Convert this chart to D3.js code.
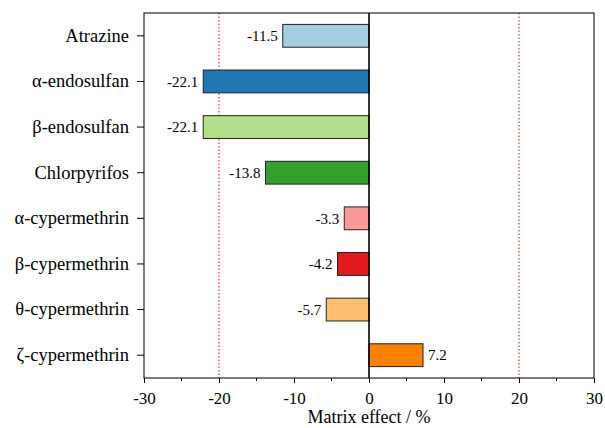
<!DOCTYPE html>
<html><head><meta charset="utf-8">
<script src="https://cdn.jsdelivr.net/npm/d3@7"></script>
<style>body{margin:0;background:#fff}svg{display:block}</style>
</head><body>
<svg id="c" width="605" height="428"></svg>
<script>
const categories=["Atrazine","α-endosulfan","β-endosulfan","Chlorpyrifos","α-cypermethrin","β-cypermethrin","θ-cypermethrin","ζ-cypermethrin"];
const values=[-11.5,-22.1,-22.1,-13.8,-3.3,-4.2,-5.7,7.2];
const colors=["#a6cee3","#1f78b4","#b2df8a","#33a02c","#fb9a99","#e31a1c","#fdbf6f","#ff7f00"];
const xTicks=[-30,-20,-10,0,10,20,30];
const refLines=[-20,20];

const FONT="'Liberation Serif', 'Times New Roman', Times, serif";
const svg=d3.select("#c");
const L=144,R=594,T=13,B=378;
const x=d3.scaleLinear().domain([-30,30]).range([L,R]);
const y=d3.scaleBand().domain(categories).range([T,B]).paddingInner(0.5).paddingOuter(0.25);

svg.selectAll(".ref").data(refLines).enter().append("line")
 .attr("x1",d=>x(d)).attr("x2",d=>x(d)).attr("y1",T).attr("y2",B)
 .attr("stroke","#ff0000").attr("stroke-width",1).attr("stroke-dasharray","1.5,2");

svg.selectAll(".bar").data(values).enter().append("rect")
 .attr("x",d=>x(Math.min(0,d))).attr("width",d=>Math.abs(x(d)-x(0)))
 .attr("y",(d,i)=>y(categories[i])).attr("height",y.bandwidth())
 .attr("fill",(d,i)=>colors[i]).attr("stroke","#222").attr("stroke-width",1);

svg.selectAll(".val").data(values).enter().append("text")
 .attr("x",d=>d<0?x(d)-5:x(d)+5)
 .attr("y",(d,i)=>y(categories[i])+y.bandwidth()/2)
 .attr("dy","0.35em").attr("text-anchor",d=>d<0?"end":"start")
 .style("font-size","15px").style("font-family",FONT).attr("fill","#000")
 .text(d=>d<0?"-"+Math.abs(d).toFixed(1):d.toFixed(1));

svg.append("line").attr("x1",x(0)).attr("x2",x(0)).attr("y1",T).attr("y2",B)
 .attr("stroke","#000").attr("stroke-width",1.6);

svg.append("rect").attr("x",L).attr("y",T).attr("width",R-L).attr("height",B-T)
 .attr("fill","none").attr("stroke","#111").attr("stroke-width",1.1);

const xa=svg.append("g").attr("transform",`translate(0,${B})`)
 .call(d3.axisBottom(x).tickValues(xTicks).tickSize(5).tickPadding(9).tickFormat(d=>d<0?"-"+Math.abs(d):d));
xa.select(".domain").remove();
xa.selectAll("text").style("font-size","17px").style("font-family",FONT).attr("fill","#000");
const minor=d3.range(-25,30,10);
svg.append("g").selectAll("line").data(minor).enter().append("line")
 .attr("x1",d=>x(d)).attr("x2",d=>x(d)).attr("y1",B).attr("y2",B+3).attr("stroke","#000");

const ya=svg.append("g").attr("transform",`translate(${L},0)`)
 .call(d3.axisLeft(y).tickSize(7).tickPadding(8));
ya.select(".domain").remove();
ya.selectAll("text").style("font-size","18.5px").style("font-family",FONT).attr("fill","#000");

svg.append("text").attr("x",x(0)).attr("y",423).attr("text-anchor","middle")
 .style("font-size","18px").style("font-family",FONT).text("Matrix effect / %");
</script>
</body></html>
